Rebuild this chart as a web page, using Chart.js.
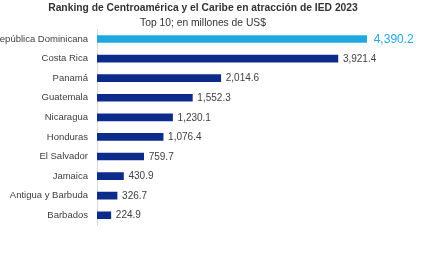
<!DOCTYPE html>
<html>
<head>
<meta charset="utf-8">
<script src="https://cdn.jsdelivr.net/npm/chart.js@4"></script>
<style>
  html, body { margin: 0; padding: 0; background: #fff; }
  #wrap { width: 440px; height: 264px; }
</style>
</head>
<body>
<div id="wrap"><canvas id="chart"></canvas></div>
<script>
// Ranking IED 2023 - Top 10

const countries = [
  'República Dominicana', 'Costa Rica', 'Panamá', 'Guatemala', 'Nicaragua',
  'Honduras', 'El Salvador', 'Jamaica', 'Antigua y Barbuda', 'Barbados',
];
const fdiValues = [4390.2, 3921.4, 2014.6, 1552.3, 1230.1, 1076.4, 759.7, 430.9, 326.7, 224.9];

const COLORS = {
  top:   '#1FA8E0',
  bar:   '#0D2B8A',
  text:  '#404040',
  axis:  '#D9D9D9',
};

const FONT = '"Liberation Sans", Arial, sans-serif';

const fmt = (v) => v.toLocaleString('en-US', { minimumFractionDigits: 1, maximumFractionDigits: 1 });

// value labels at the end of each bar
const valueLabels = {
  id: 'valueLabels',
  afterDatasetsDraw(chart) {
    const { ctx } = chart;
    const meta = chart.getDatasetMeta(0);
    ctx.save();
    ctx.textBaseline = 'middle';
    ctx.textAlign = 'left';
    meta.data.forEach((bar, i) => {
      const first = i === 0;
      ctx.font = (first ? '12px ' : '10px ') + FONT;
      ctx.fillStyle = first ? COLORS.top : COLORS.text;
      ctx.fillText(fmt(fdiValues[i]), bar.x + (first ? 7 : 5), bar.y + 0.5);
    });
    ctx.restore();
  },
};

new Chart(document.getElementById('chart'), {
  type: 'bar',
  data: {
    labels: countries,
    datasets: [{
      data: fdiValues,
      backgroundColor: fdiValues.map((_, i) => i === 0 ? COLORS.top : COLORS.bar),
      barThickness: 7,
      borderWidth: 0,
    }],
  },
  options: {
    indexAxis: 'y',
    responsive: true,
    maintainAspectRatio: false,
    animation: false,
    layout: { padding: { top: 0, right: 34, bottom: 39, left: 0 } },
    scales: {
      x: {
        min: 0,
        max: 5030,
        display: false,
        grid: { display: false },
      },
      y: {
        grid: { display: false, drawTicks: false },
        border: { display: true, color: COLORS.axis, width: 1 },
        ticks: {
          color: COLORS.text,
          padding: 9,
          font: { family: FONT, size: 9.5 },
        },
        afterFit: (scale) => { scale.width = 97; },
      },
    },
    plugins: {
      legend: { display: false },
      tooltip: { enabled: false },
      title: {
        display: true,
        text: 'Ranking de Centroamérica y el Caribe en atracción de IED 2023',
        color: '#333',
        font: { family: FONT, size: 10.3, weight: 'bold' },
        padding: { top: 2, bottom: 2 },
      },
      subtitle: {
        display: true,
        text: 'Top 10; en millones de US$',
        color: '#333',
        font: { family: FONT, size: 10.3 },
        padding: { top: 0.5, bottom: 0 },
      },
    },
  },
  plugins: [valueLabels],
});
</script>
</body>
</html>
